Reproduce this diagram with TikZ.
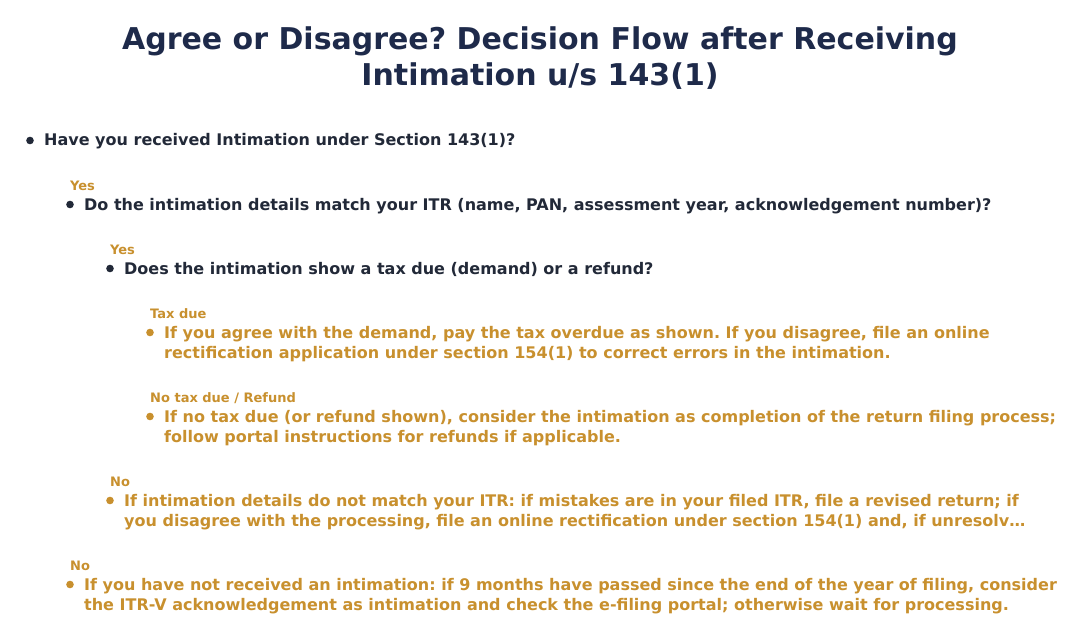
\documentclass[tikz,border=0pt]{standalone}
\usepackage{fontspec}
\setmainfont{DejaVu Sans}
\usetikzlibrary{positioning}
\frenchspacing

\definecolor{titleblue}{HTML}{1E2A4A}
\definecolor{textdark}{HTML}{222938}
\definecolor{answergold}{HTML}{C8902E}

\tikzset{
	heading/.style={anchor=base, inner sep=0pt, text=titleblue, align=center,
		font=\fontsize{30}{36}\selectfont\bfseries},
	question/.style={anchor=base west, inner sep=0pt, text=textdark, align=left,
		font=\fontsize{16}{20}\selectfont\bfseries},
	answer/.style={question, text=answergold},
	branch/.style={anchor=base west, inner sep=0pt, text=answergold,
		font=\fontsize{13}{15}\selectfont\bfseries},
}

\begin{document}
\begin{tikzpicture}[x=1pt, y=-1pt]

% canvas %{{{2

	\useasboundingbox (0,0) rectangle (1080,642);

% title (base is the last line) %{{{2

	\node[heading] (title) at (540,86) {Agree or Disagree? Decision Flow after Receiving\\Intimation u/s 143(1)};

% questions %{{{2

	\node[question] (q1) at (44,146) {Have you received Intimation under Section 143(1)?};
	\node[branch] (yes1) at (70,190) {Yes};
	\node[question] (q2) at (84,210) {Do the intimation details match your ITR (name, PAN, assessment year, acknowledgement number)?};
	\node[branch] (yes2) at (110,254) {Yes};
	\node[question] (q3) at (124,274) {Does the intimation show a tax due (demand) or a refund?};

% answers (two lines, base on the second one) %{{{2

	\node[branch] (taxdue) at (150,318) {Tax due};
	\node[answer] (a1) at (164,358) {If you agree with the demand, pay the tax overdue as shown. If you disagree, file an online\\rectification application under section 154(1) to correct errors in the intimation.};

	\node[branch] (refund) at (150,402) {No tax due / Refund};
	\node[answer] (a2) at (164,442) {If no tax due (or refund shown), consider the intimation as completion of the return filing process;\\follow portal instructions for refunds if applicable.};

	\node[branch] (no2) at (110,486) {No};
	\node[answer] (a3) at (124,526) {If intimation details do not match your ITR: if mistakes are in your filed ITR, file a revised return; if\\you disagree with the processing, file an online rectification under section 154(1) and, if unresolv…};

	\node[branch] (no1) at (70,570) {No};
	\node[answer] (a4) at (84,610) {If you have not received an intimation: if 9 months have passed since the end of the year of filing, consider\\the ITR-V acknowledgement as intimation and check the e-filing portal; otherwise wait for processing.};

% bullets %{{{2

	\foreach \x/\y/\c in {30/146/textdark, 70/210/textdark, 110/274/textdark,
		150/338/answergold, 150/422/answergold, 110/506/answergold, 70/590/answergold} {
		\fill[\c] (\x,\y-5.5) circle (3.8pt);
	}

% closing %{{{2

\end{tikzpicture}
\end{document}
